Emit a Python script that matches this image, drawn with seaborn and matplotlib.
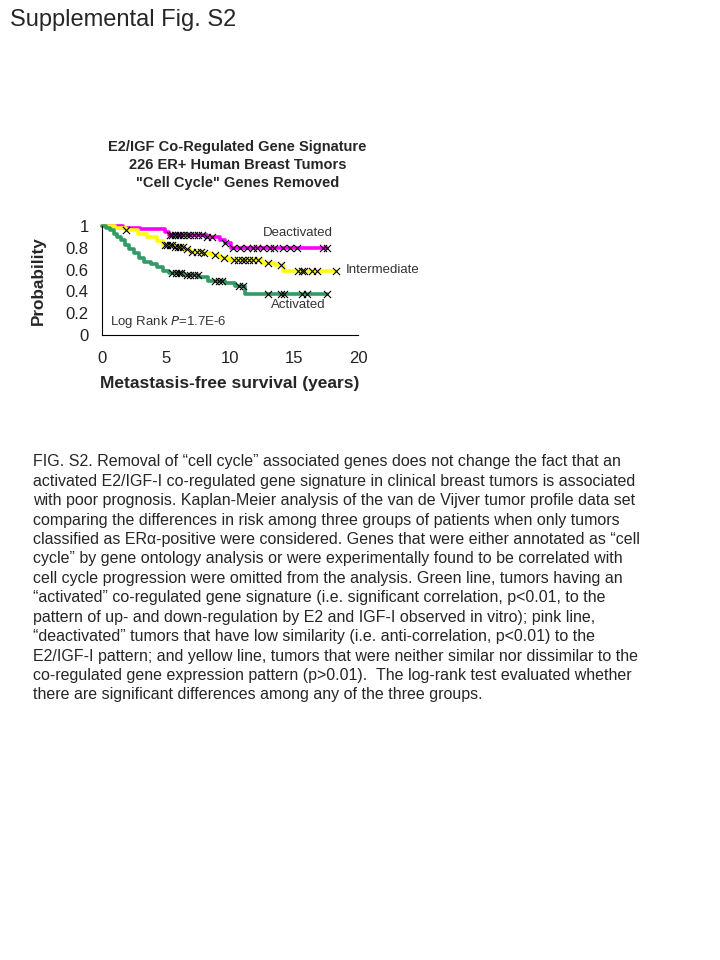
import numpy as np
import matplotlib
matplotlib.use('Agg')
import matplotlib.pyplot as plt
import seaborn as sns

# Kaplan-Meier step curves (time in years, survival)
act_t = [0, 0.3, 0.6, 0.9, 1.2, 1.5, 1.8, 2.1, 2.5, 2.9, 3.3, 3.8, 4.3, 4.8, 5.2, 6.4, 7.6, 8.3, 9.6, 10.4, 11.2]
act_s = [1.0, 0.98, 0.96, 0.93, 0.90, 0.87, 0.83, 0.79, 0.75, 0.71, 0.67, 0.65, 0.62, 0.59, 0.57, 0.55, 0.53, 0.50, 0.48, 0.45, 0.38]
act_end = 17.6
act_cens = [5.5, 5.8, 6.0, 6.2, 6.6, 6.9, 7.2, 7.5, 8.8, 9.1, 9.4, 10.7, 11.0, 13.0, 14.0, 14.2, 15.6, 16.0, 17.6]

deact_t = [0, 1.6, 3.0, 4.9, 5.2, 8.2, 9.2, 9.6, 10.1]
deact_s = [1.0, 0.985, 0.97, 0.95, 0.92, 0.90, 0.87, 0.845, 0.80]
deact_end = 17.6
deact_cens = [5.3, 5.5, 5.7, 5.9, 6.1, 6.3, 6.6, 6.9, 7.2, 7.5, 7.8, 8.2, 8.6, 9.6,
              10.2, 10.8, 11.3, 11.8, 12.1, 12.6, 13.1, 13.4, 14.1, 14.7, 15.2, 17.3, 17.6]

int_t = [0, 1.0, 1.9, 2.8, 3.5, 4.3, 4.8, 5.6, 6.4, 6.9, 7.8, 8.6, 9.2, 9.9, 12.5, 13.5, 14.1]
int_s = [1.0, 0.985, 0.96, 0.93, 0.90, 0.86, 0.83, 0.81, 0.79, 0.76, 0.75, 0.73, 0.71, 0.69, 0.66, 0.64, 0.59]
int_end = 18.3
int_cens = [1.9, 4.9, 5.1, 5.3, 5.5, 5.7, 5.9, 6.1, 6.3, 6.6, 7.0, 7.4, 7.7, 8.0, 8.8, 9.5,
            10.3, 10.6, 10.9, 11.2, 11.5, 11.8, 12.2, 13.0, 14.0, 15.3, 15.6, 15.8, 16.4, 16.8, 18.3]

yticks = [0, 0.2, 0.4, 0.6, 0.8, 1]
ytick_labels = ['0', '0.2', '0.4', '0.6', '0.8', '1']
xticks = [0, 5, 10, 15, 20]

title_lines = ['E2/IGF Co-Regulated Gene Signature',
               '226 ER+ Human Breast Tumors',
               '"Cell Cycle" Genes Removed']

caption = [
    'FIG. S2. Removal of \u201ccell cycle\u201d associated genes does not change the fact that an',
    'activated E2/IGF-I co-regulated gene signature in clinical breast tumors is associated',
    'with poor prognosis. Kaplan-Meier analysis of the van de Vijver tumor profile data set',
    'comparing the differences in risk among three groups of patients when only tumors',
    'classified as ER\u03b1-positive were considered. Genes that were either annotated as \u201ccell',
    'cycle\u201d by gene ontology analysis or were experimentally found to be correlated with',
    'cell cycle progression were omitted from the analysis. Green line, tumors having an',
    '\u201cactivated\u201d co-regulated gene signature (i.e. significant correlation, p<0.01, to the',
    'pattern of up- and down-regulation by E2 and IGF-I observed in vitro); pink line,',
    '\u201cdeactivated\u201d tumors that have low similarity (i.e. anti-correlation, p<0.01) to the',
    'E2/IGF-I pattern; and yellow line, tumors that were neither similar nor dissimilar to the',
    'co-regulated gene expression pattern (p>0.01).  The log-rank test evaluated whether',
    'there are significant differences among any of the three groups.',
]

sns.set_style('white')
plt.rcParams['font.family'] = ['Liberation Sans', 'DejaVu Sans']

fig = plt.figure(figsize=(7.2, 9.6), dpi=100)
ax = fig.add_axes([0.1417, 0.651, 0.3556, 0.1135])


def step_at(t, s, c):
    idx = np.searchsorted(t, c, side='right') - 1
    return np.array(s)[idx]


curves = [
    (deact_t, deact_s, deact_end, deact_cens, '#ff00ff'),
    (int_t, int_s, int_end, int_cens, '#ffff00'),
    (act_t, act_s, act_end, act_cens, '#339966'),
]
for t, s, end, cens, col in curves:
    xs = list(t) + [end]
    ys = list(s) + [s[-1]]
    sns.lineplot(x=xs, y=ys, ax=ax, drawstyle='steps-post', estimator=None,
                 color=col, linewidth=2.6, clip_on=False)
    sns.scatterplot(x=cens, y=step_at(t, s, cens), ax=ax, marker='x', color='black',
                    s=26, linewidth=0.8, clip_on=False, zorder=5)

ax.set_xlim(0, 20)
ax.set_ylim(0, 1)
ax.set_xticks(xticks)
ax.set_xticklabels([str(v) for v in xticks])
ax.set_yticks(yticks)
ax.set_yticklabels(ytick_labels)
ax.tick_params(axis='both', direction='out', length=3.6, width=0.8, colors='black',
               labelcolor='#222222', labelsize=12, pad=6)
ax.tick_params(axis='x', pad=8)
for side in ['top', 'right']:
    ax.spines[side].set_visible(False)
for side in ['left', 'bottom']:
    ax.spines[side].set_color('black')
    ax.spines[side].set_linewidth(0.8)
ax.set_facecolor('white')

ax.set_ylabel('Probability', fontsize=12.3, fontweight='bold', labelpad=14)
ax.set_xlabel('Metastasis-free survival (years)', fontsize=12.5, fontweight='bold', labelpad=7)

ax.text(15.3, 0.935, 'Deactivated', fontsize=9.5, ha='center', va='center', color='#333333')
ax.text(19.0, 0.60, 'Intermediate', fontsize=9.5, ha='left', va='center', color='#333333')
ax.text(15.3, 0.275, 'Activated', fontsize=9.5, ha='center', va='center', color='#333333')
ax.text(0.6, 0.12, 'Log Rank $\\it{P}$=1.7E-6', fontsize=9.5, ha='left', va='center', color='#333333')

for i, line in enumerate(title_lines):
    fig.text(0.330, 1 - (147 + 18 * i) / 960, line, fontsize=10.5, fontweight='bold',
             ha='center', va='center')

fig.text(10 / 720, 1 - 20 / 960, 'Supplemental Fig. S2', fontsize=17, ha='left', va='center')

for i, line in enumerate(caption):
    fig.text(33 / 720, 1 - (462 + 19.4 * i) / 960, line, fontsize=11.5, ha='left', va='center')

fig.savefig('out.png', dpi=100, facecolor='white')
